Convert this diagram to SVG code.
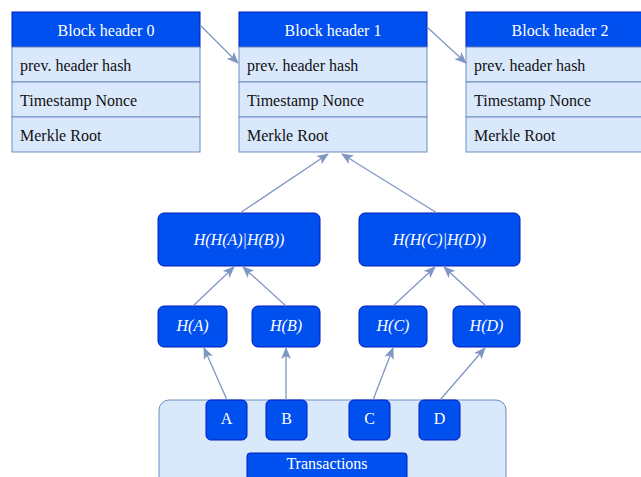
<svg xmlns="http://www.w3.org/2000/svg" width="641" height="477" viewBox="0 0 641 477">
<style>
.hd{fill:#0050ef;stroke:#001dbc;stroke-width:1}
.row{fill:#dae8fc;stroke:#6c8ebf;stroke-width:1}
.bx{fill:#0050ef;stroke:#001dbc;stroke-width:1}
.t{font-family:"Liberation Serif","Times New Roman",serif;font-size:16px}
.w{fill:#ffffff}
.k{fill:#111111}
.i{font-style:italic}
.c{text-anchor:middle}
.cn line{stroke:#8096c2;stroke-width:1.3;fill:none;marker-end:url(#ah)}
</style>
<defs>
<marker id="ah" viewBox="0 0 12 10" refX="11" refY="5" markerWidth="12" markerHeight="10" markerUnits="userSpaceOnUse" orient="auto">
<path d="M0,0 L12,5 L0,10 L3,5 Z" fill="#8096c2"/>
</marker>
</defs>
<rect width="641" height="477" fill="#ffffff"/>
<g id="block0">
<rect class="hd" x="12" y="12" width="188" height="35"/>
<rect class="row" x="12" y="47" width="188" height="35"/>
<rect class="row" x="12" y="82" width="188" height="35"/>
<rect class="row" x="12" y="117" width="188" height="35"/>
<text class="t w c" x="106" y="36">Block header 0</text>
<text class="t k" x="20" y="71">prev. header hash</text>
<text class="t k" x="20" y="106">Timestamp Nonce</text>
<text class="t k" x="20" y="141">Merkle Root</text>
</g>
<g id="block1">
<rect class="hd" x="239" y="12" width="188" height="35"/>
<rect class="row" x="239" y="47" width="188" height="35"/>
<rect class="row" x="239" y="82" width="188" height="35"/>
<rect class="row" x="239" y="117" width="188" height="35"/>
<text class="t w c" x="333" y="36">Block header 1</text>
<text class="t k" x="247" y="71">prev. header hash</text>
<text class="t k" x="247" y="106">Timestamp Nonce</text>
<text class="t k" x="247" y="141">Merkle Root</text>
</g>
<g id="block2">
<rect class="hd" x="466" y="12" width="188" height="35"/>
<rect class="row" x="466" y="47" width="188" height="35"/>
<rect class="row" x="466" y="82" width="188" height="35"/>
<rect class="row" x="466" y="117" width="188" height="35"/>
<text class="t w c" x="560" y="36">Block header 2</text>
<text class="t k" x="474" y="71">prev. header hash</text>
<text class="t k" x="474" y="106">Timestamp Nonce</text>
<text class="t k" x="474" y="141">Merkle Root</text>
</g>
<g id="hab">
<rect class="bx" x="158" y="213" width="162" height="53" rx="6"/>
<text class="t w i c" x="239" y="245">H(H(A)|H(B))</text>
</g>
<g id="hcd">
<rect class="bx" x="359" y="213" width="161" height="53" rx="6"/>
<text class="t w i c" x="439.5" y="245">H(H(C)|H(D))</text>
</g>
<g id="ha">
<rect class="bx" x="158" y="306" width="69" height="41" rx="6"/>
<text class="t w i c" x="192.5" y="331">H(A)</text>
</g>
<g id="hb">
<rect class="bx" x="252" y="306" width="68" height="41" rx="6"/>
<text class="t w i c" x="286" y="331">H(B)</text>
</g>
<g id="hc">
<rect class="bx" x="359" y="306" width="68" height="41" rx="6"/>
<text class="t w i c" x="393" y="331">H(C)</text>
</g>
<g id="hd">
<rect class="bx" x="453" y="306" width="67" height="41" rx="6"/>
<text class="t w i c" x="486.5" y="331">H(D)</text>
</g>
<g id="transactions">
<rect class="row" x="159" y="400" width="347" height="90" rx="10"/>
<rect class="bx" x="247" y="453" width="160" height="35" rx="3"/>
<text class="t w c" x="327" y="469">Transactions</text>
</g>
<g id="txa">
<rect class="bx" x="206" y="400" width="41" height="40" rx="5"/>
<text class="t w c" x="226.5" y="424">A</text>
</g>
<g id="txb">
<rect class="bx" x="266" y="400" width="41" height="40" rx="5"/>
<text class="t w c" x="286.5" y="424">B</text>
</g>
<g id="txc">
<rect class="bx" x="349" y="400" width="41" height="40" rx="5"/>
<text class="t w c" x="369.5" y="424">C</text>
</g>
<g id="txd">
<rect class="bx" x="419" y="400" width="41" height="40" rx="5"/>
<text class="t w c" x="439.5" y="424">D</text>
</g>
<g class="cn" id="connectors">
<line x1="200" y1="25" x2="238" y2="63"/>
<line x1="427" y1="27" x2="466" y2="63"/>
<line x1="240" y1="213" x2="328" y2="154"/>
<line x1="437" y1="213" x2="342" y2="154"/>
<line x1="193" y1="306" x2="234" y2="267"/>
<line x1="286" y1="306" x2="243" y2="267"/>
<line x1="393" y1="306" x2="435" y2="267"/>
<line x1="486" y1="306" x2="444" y2="267"/>
<line x1="227" y1="400" x2="204" y2="348"/>
<line x1="286" y1="400" x2="286" y2="348"/>
<line x1="373" y1="400" x2="393" y2="348"/>
<line x1="440" y1="400" x2="485" y2="348"/>
</g>
</svg>
